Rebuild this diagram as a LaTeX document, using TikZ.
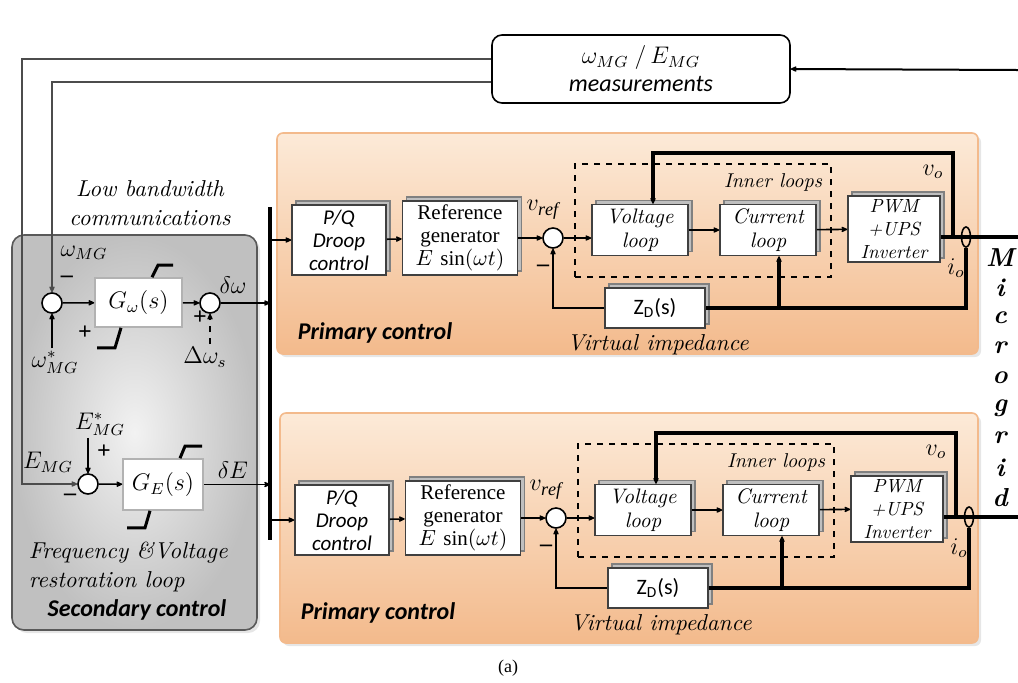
\documentclass[tikz,border=0pt]{standalone}
\usepackage{fontspec}
\setmainfont{Liberation Serif}
\setsansfont{Carlito}
\newfontfamily\itfont{lmroman10-italic.otf}
\newfontfamily\bifont{lmroman10-bolditalic.otf}
\usetikzlibrary{arrows.meta, positioning, shadows, fit, shapes.geometric}
\definecolor{peachlight}{RGB}{252,234,216}
\definecolor{peachdark}{RGB}{243,186,140}
\definecolor{greylight}{RGB}{242,242,242}
\definecolor{greydark}{RGB}{192,192,192}

\begin{document}
\begin{tikzpicture} [%
    x = 0.5pt, y = -0.5pt,
    >= { Stealth[round, length = 4pt, width = 3.6pt] },
    line width = 0.8pt,
    every node/.style = {inner sep = 1pt},
    blk/.style = {%
      draw = black!75,
      fill = white,
      align = center,
      copy shadow = {shadow xshift = 2pt, shadow yshift = 2pt,
                     fill = gray!50, draw = black!50} },
    tfbox/.style = {%
      draw = black!30, fill = white,
      font = \fontsize{12}{14}\selectfont },
    sumj/.style = {circle, draw, fill = white, minimum size = 10pt, inner sep = 0pt},
    sensor/.style = {ellipse, draw, minimum width = 4.5pt, minimum height = 10pt, inner sep = 0pt},
    sat/.style = {line width = 1.5pt},
    fb/.style = {line width = 1.6pt},
    mline/.style = {draw = black!70},
    peachpanel/.style = {%
      rounded corners = 3pt, inner sep = 0pt,
      draw = peachdark,
      top color = peachlight, bottom color = peachdark,
      drop shadow = {opacity = 0.2, shadow xshift = 1.5pt, shadow yshift = -1.5pt} },
    greypanel/.style = {%
      rounded corners = 6pt, inner sep = 0pt,
      draw = black!65,
      inner color = greylight, outer color = greydark,
      drop shadow = {opacity = 0.2, shadow xshift = 1.5pt, shadow yshift = -1.5pt} },
    meas/.style = {%
      draw, fill = white, rounded corners = 5pt, align = center,
      minimum width = 149pt, minimum height = 34pt,
      font = \fontsize{12}{14}\selectfont },
    lbl/.style = {font = \fontsize{12}{14}\selectfont},
    sign/.style = {font = \fontsize{12}{12}\selectfont\bfseries},
    note/.style = {font = \itfont\fontsize{11.5}{14.5}\selectfont},
    smallnote/.style = {font = \itfont\fontsize{10}{12}\selectfont},
    title/.style = {font = \sffamily\bfseries\itshape\fontsize{12}{14}\selectfont},
    gridletter/.style = {font = \bifont\fontsize{13}{14}\selectfont}
  ]

  \useasboundingbox (0,0) rectangle (1018,682);

  % panels
  \node[greypanel, fit = {(12,235) (257,630)}] (sec) {};
  \node[peachpanel, fit = {(277,133) (978,354)}] (prima) {};
  \node[peachpanel, fit = {(280,413) (978,643)}] (primb) {};

  % measurements
  \node[meas] (meas) at (641,69) {$\omega_{MG}\ /\,E_{MG}$\\ \sffamily\itshape measurements};
  \coordinate (meas in) at (1018,70);
  \draw[->, line width = 1pt] (meas in) -- (meas.east);

  % secondary control
  \node[sumj] (sumW) at (52,303) {};
  \node[tfbox, minimum width = 43.5pt, minimum height = 24.5pt] (gw) at (138.5,302.5) {$G_{\omega}(s)$};
  \node[sumj] (sumW2) at (210,303) {};
  \node[sumj] (sumE) at (88,484) {};
  \node[tfbox, minimum width = 40pt, minimum height = 25.5pt] (ge) at (163,484.5) {$G_{E}(s)$};

  \coordinate (bus top) at (270,207);
  \coordinate (bus bot) at (270,540);
  \draw[line width = 2.2pt] (bus top) -- (bus bot);

  \draw[mline, ->] ([yshift = -6.5pt]meas.west) -| (sumW.north);
  \draw[mline, ->] ([yshift = 5pt]meas.west) -| ([xshift = -27.5pt]sumE.west) -- (sumE.west);

  \draw[->] (sumW) -- (gw);
  \draw[->] (gw) -- (sumW2);
  \draw[->] (sumW2.east) -- (sumW2.east -| bus top);
  \draw[->] (sumE) -- (ge);
  \draw[->] (ge.east) -- (ge.east -| bus top);

  \draw[sat] ([xshift = 6.75pt]gw.north) -- ++(6,-12) -- ++(15,0);
  \draw[sat] ([xshift = -8.75pt]gw.south) -- ++(-6,20) -- ++(-18,0);
  \draw[sat] ([xshift = 8.5pt]ge.north) -- ++(5,-12) -- ++(17,0);
  \draw[sat] ([xshift = -6.5pt]ge.south) -- ++(-5,17) -- ++(-18,0);

  \node[lbl] (wmg) at (84,253) {$\omega_{MG}$};
  \node[sign] (mw) at (67,279) {--};
  \node[lbl] (wref) at (55,362) {$\omega^{*}_{MG}$};
  \draw[->] (sumW |- wref.north) -- (sumW.south);
  \node[sign] (pw) at (85,333) {+};
  \node[lbl] (dws) at (205,357) {$\Delta\omega_{s}$};
  \draw[->, dashed] (sumW2 |- dws.north) -- (sumW2.south);
  \node[sign] (pw2) at (200,318) {+};
  \node[lbl] (dw) at (233,285) {$\delta\omega$};

  \node[lbl] (estar) at (100,424) {$E^{*}_{MG}$};
  \draw[->] (sumE |- estar.south) -- (sumE.north);
  \node[sign] (pe) at (104,452) {+};
  \node[lbl] (emg) at (48,462) {$E_{MG}$};
  \node[sign] (me) at (70,497) {--};
  \node[lbl] (de) at (233,470) {$\delta E$};

  \node[note, align = center] (lowbw) at (150,203) {Low bandwidth\\communications};
  \node[note, align = left, anchor = west] (restore) at (26,567) {Frequency \&Voltage\\restoration loop};
  \node[title] (seclbl) at (137,610) {Secondary control};

  % primary control, two units
  \foreach \u/\dx/\dy in {a/0/0, b/3/280} {
    \begin{scope}[shift = {(\dx,\dy)}]
      \node[blk, font = \sffamily\itshape\fontsize{10.5}{11.5}\selectfont,
            minimum width = 47pt, minimum height = 35pt] (pq\u) at (339,240) {P/Q\\Droop\\control};
      \node[blk, font = \fontsize{10.5}{11.5}\selectfont,
            minimum width = 57.5pt, minimum height = 37pt] (ref\u) at (460,238) {Reference\\generator\\$E\,\sin(\omega t)$};
      \node[sumj] (sum\u) at (553,238) {};
      \node[blk, font = \itfont\fontsize{10.5}{12}\selectfont,
            minimum width = 48pt, minimum height = 25.5pt] (vl\u) at (640,230) {Voltage\\loop};
      \node[blk, font = \itfont\fontsize{10.5}{12}\selectfont,
            minimum width = 48pt, minimum height = 25.5pt] (cl\u) at (768,230) {Current\\loop};
      \node[blk, font = \itfont\fontsize{9.5}{11.5}\selectfont,
            minimum width = 46pt, minimum height = 33pt] (pwm\u) at (894,229) {PWM\\+UPS\\Inverter};
      \node[blk, font = \sffamily\fontsize{11}{13}\selectfont,
            minimum width = 50pt, minimum height = 20pt] (zd\u) at (655,308) {Z\textsubscript{D}(s)};
      \node[draw, dashed, inner sep = 0pt, fit = {(575,164) (831,277)}] (inner\u) {};

      \coordinate (out\u) at (1018,237);
      \coordinate (vtap\u) at (953,237);
      \coordinate (brk\u) at ([xshift = 5.5pt]cl\u.south);

      \draw[->] (pq\u.west -| bus top) -- (pq\u.west);
      \draw[->] (pq\u) -- (ref\u);
      \draw[->] (ref\u) -- (sum\u);
      \draw[->] (sum\u.east) -- (sum\u.east -| vl\u.west);
      \draw[->] (vl\u) -- (cl\u);
      \draw[->] (cl\u) -- (pwm\u);
      \draw[fb] (pwm\u.east |- out\u) -- (out\u);
      \node[sensor] (ct\u) at (966,237) {};
      \draw[fb, ->] (vtap\u) -- ++(0,-84) -| ([xshift = 6.5pt]vl\u.north);
      \draw[fb] (ct\u.south) |- (zd\u.east);
      \draw[fb, ->] (brk\u |- zd\u.east) -- (brk\u);
      \draw[->] (zd\u.west) -| (sum\u.south);

      \node[lbl, font = \fontsize{13}{14}\selectfont] (vref\u) at (543,210) {$v_{\mathit{ref}}$};
      \node[sign] (vm\u) at (543,268) {--};
      \node[smallnote] (inlbl\u) at (773,182) {Inner loops};
      \node[lbl] (vo\u) at (933,172) {$v_{o}$};
      \node[lbl] (io\u) at (956,268) {$i_{o}$};
      \node[note] (vilbl\u) at (658,345) {Virtual impedance};
      \node[title] (plbl\u) at (375,333) {Primary control};
    \end{scope}
  }

  % microgrid
  \foreach \ch [count = \i] in {M,i,c,r,o,g,r,i,d}
    \node[gridletter] (mg\i) at (1000, 228 + 30*\i) {\ch};

  \node[font = \fontsize{9}{10}\selectfont] (cap) at (508,668) {(a)};

\end{tikzpicture}
\end{document}
